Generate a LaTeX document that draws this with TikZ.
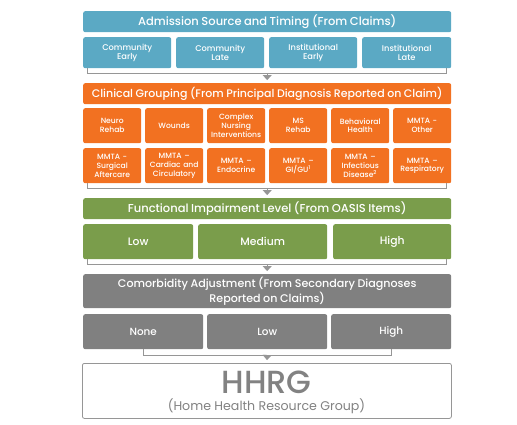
\documentclass[tikz,border=0pt]{standalone}
\usepackage{fontspec}
\setmainfont{Poppins Medium}
\newfontfamily\regfont{Poppins}
\usetikzlibrary{arrows.meta}
\definecolor{cblue}{RGB}{91,169,196}
\definecolor{corange}{RGB}{242,113,33}
\definecolor{cgreen}{RGB}{122,157,75}
\definecolor{cgray}{RGB}{128,128,128}
\definecolor{cline}{RGB}{150,150,150}
\definecolor{ctext}{RGB}{130,130,130}
\tikzset{
  cell/.style={rounded corners=2pt, anchor=north west, inner sep=0pt, align=center, text=white, font=\fontsize{7.6}{8.7}\selectfont},
  bracket/.style={draw=cline, line width=1pt},
  arr/.style={draw=cline, line width=0.1pt, -{Triangle[width=9pt,length=5pt]}, shorten >=3pt, fill=cgray},
  gtext/.style={inner sep=0pt, anchor=base, text=ctext},
}
\newcommand{\cellbox}[7]{% name, x1, y1, x2, y2, color, text
  \node[cell, fill=#6, minimum width=#4-#2, minimum height=#5-#3, text width=#4-#2] (#1) at (#2,#3) {#7};}
\begin{document}
\begin{tikzpicture}[x=1pt,y=-1pt]
\useasboundingbox (0,0) rectangle (517,424);
% Admission
\cellbox{hA}{83}{11}{451}{32}{cblue}{\fontsize{11.5}{12}\selectfont Admission Source and Timing (From Claims)}
\cellbox{a1}{83}{37}{171}{68}{cblue}{\fontsize{8.3}{10}\selectfont Community\\Early}
\cellbox{a2}{176}{37}{264}{68}{cblue}{\fontsize{8.3}{10}\selectfont Community\\Late}
\cellbox{a3}{269}{37}{357}{68}{cblue}{\fontsize{8.3}{10}\selectfont Institutional\\Early}
\cellbox{a4}{362}{37}{451}{68}{cblue}{\fontsize{8.3}{10}\selectfont Institutional\\Late}
% Clinical
\cellbox{hB}{83}{83}{451}{104}{corange}{\fontsize{11}{12}\selectfont Clinical Grouping (From Principal Diagnosis Reported on Claim)}
\cellbox{b1}{83}{108}{141}{143}{corange}{Neuro\\Rehab}
\cellbox{b2}{145}{108}{203}{143}{corange}{Wounds}
\cellbox{b3}{207}{108}{265}{143}{corange}{Complex\\Nursing\\Interventions}
\cellbox{b4}{269}{108}{327}{143}{corange}{MS\\Rehab}
\cellbox{b5}{331}{108}{389}{143}{corange}{Behavioral\\Health}
\cellbox{b6}{393}{108}{451}{143}{corange}{MMTA -\\Other}
\cellbox{c1}{83}{148}{141}{183}{corange}{MMTA -\\Surgical\\Aftercare}
\cellbox{c2}{145}{148}{203}{183}{corange}{MMTA –\\Cardiac and\\Circulatory}
\cellbox{c3}{207}{148}{265}{183}{corange}{MMTA –\\Endocrine}
\cellbox{c4}{269}{148}{327}{183}{corange}{MMTA –\\GI/GU\textsuperscript{1}}
\cellbox{c5}{331}{148}{389}{183}{corange}{MMTA –\\Infectious\\Disease\textsuperscript{2}}
\cellbox{c6}{393}{148}{451}{183}{corange}{MMTA –\\Respiratory}
% Functional
\cellbox{hC}{83}{198}{451}{219}{cgreen}{\fontsize{11.5}{12}\selectfont Functional Impairment Level (From OASIS Items)}
\cellbox{d1}{83}{224}{193}{259}{cgreen}{\fontsize{10.8}{11}\selectfont Low}
\cellbox{d2}{198}{224}{327}{259}{cgreen}{\fontsize{10.8}{11}\selectfont Medium}
\cellbox{d3}{333}{224}{451}{259}{cgreen}{\fontsize{10.8}{11}\selectfont High}
% Comorbidity
\cellbox{hD}{83}{274}{451}{308}{cgray}{\fontsize{11.1}{13}\selectfont Comorbidity Adjustment (From Secondary Diagnoses\\Reported on Claims)}
\cellbox{e1}{83}{314}{203}{349}{cgray}{\fontsize{10.4}{11}\selectfont None}
\cellbox{e2}{207}{314}{327}{349}{cgray}{\fontsize{10.4}{11}\selectfont Low}
\cellbox{e3}{331}{314}{451}{349}{cgray}{\fontsize{10.4}{11}\selectfont High}
% HHRG
\node[cell, fill=white, draw=cline, line width=0.8pt, minimum width=369, minimum height=55, text width=369] (hh) at (82,363) {};
\node[gtext, font=\fontsize{32}{32}\selectfont, text height=23pt, text depth=0pt] (hht) at (266.5,393) {HHRG};
\node[gtext, font=\regfont\fontsize{12.6}{12}\selectfont, text height=9.5pt, text depth=3pt] (hhs) at (266.5,410) {(Home Health Resource Group)};
% brackets
\draw[bracket] ([xshift=4pt]a1.south west) -- ++(0,5) coordinate (ba) -| ([xshift=-5pt]a4.south east);
\coordinate (ma) at (hA.center |- ba);
\draw[arr] (ma) -- (hB.north);
\draw[bracket] ([xshift=4pt]c1.south west) -- ++(0,5) coordinate (bb) -| ([xshift=-5pt]c6.south east);
\coordinate (mb) at (hA.center |- bb);
\draw[arr] (mb) -- (hC.north);
\draw[bracket] ([xshift=4pt]d1.south west) -- ++(0,5) coordinate (bc) -| ([xshift=-5pt]d3.south east);
\coordinate (mc) at (hA.center |- bc);
\draw[arr] (mc) -- (hD.north);
\draw[bracket] (e1.south) -- ++(0,6) coordinate (bd) -| (e3.south);
\coordinate (md) at (hA.center |- bd);
\draw[arr] (md) -- (hh.north);
\end{tikzpicture}
\end{document}
